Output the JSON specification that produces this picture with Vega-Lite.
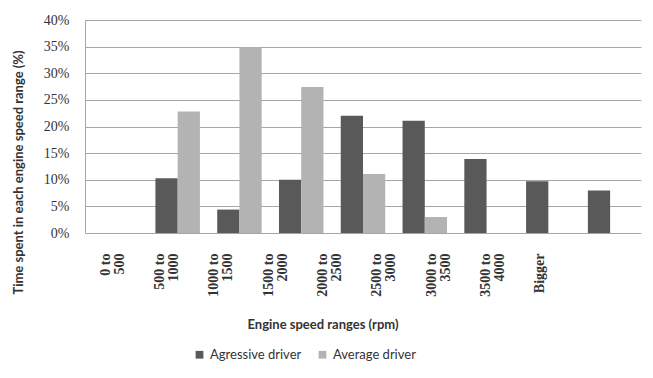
{
  "$schema": "https://vega.github.io/schema/vega-lite/v6.json",
  "width": 556,
  "height": 213,
  "autosize": {"type": "none"},
  "padding": {"left": 85, "top": 20, "right": 12, "bottom": 145},
  "background": "white",
  "config": {
    "view": {"stroke": null},
    "axis": {"labelColor": "#333333", "titleColor": "#333333"}
  },
  "data": {
    "values": [
      {"range": "0 to 500", "driver": "Agressive driver", "value": 0},
      {"range": "0 to 500", "driver": "Average driver", "value": 0},
      {"range": "500 to 1000", "driver": "Agressive driver", "value": 10.3},
      {"range": "500 to 1000", "driver": "Average driver", "value": 22.8},
      {"range": "1000 to 1500", "driver": "Agressive driver", "value": 4.4},
      {"range": "1000 to 1500", "driver": "Average driver", "value": 34.9},
      {"range": "1500 to 2000", "driver": "Agressive driver", "value": 10.0},
      {"range": "1500 to 2000", "driver": "Average driver", "value": 27.4},
      {"range": "2000 to 2500", "driver": "Agressive driver", "value": 22.0},
      {"range": "2000 to 2500", "driver": "Average driver", "value": 11.1},
      {"range": "2500 to 3000", "driver": "Agressive driver", "value": 21.1},
      {"range": "2500 to 3000", "driver": "Average driver", "value": 3.0},
      {"range": "3000 to 3500", "driver": "Agressive driver", "value": 13.9},
      {"range": "3000 to 3500", "driver": "Average driver", "value": 0},
      {"range": "3500 to 4000", "driver": "Agressive driver", "value": 9.7},
      {"range": "3500 to 4000", "driver": "Average driver", "value": 0},
      {"range": "Bigger", "driver": "Agressive driver", "value": 8.0},
      {"range": "Bigger", "driver": "Average driver", "value": 0}
    ]
  },
  "layer": [
    {
      "mark": {"type": "bar"},
      "encoding": {
        "x": {
          "field": "range", "type": "nominal",
          "sort": ["0 to 500","500 to 1000","1000 to 1500","1500 to 2000","2000 to 2500","2500 to 3000","3000 to 3500","3500 to 4000","Bigger"],
          "scale": {"paddingInner": 0.28, "paddingOuter": 0.14},
          "axis": null
        },
        "xOffset": {"field": "driver", "type": "nominal", "scale": {"paddingInner": 0}},
        "y": {
          "field": "value", "type": "quantitative",
          "scale": {"domain": [0, 40], "nice": false},
          "axis": {
            "values": [0, 5, 10, 15, 20, 25, 30, 35, 40],
            "labelOverlap": false,
            "labelExpr": "datum.value + '%'",
            "labelFont": "Liberation Serif",
            "labelFontSize": 14,
            "labelPadding": 16,
            "ticks": false,
            "domain": true,
            "domainColor": "#a6a6a6",
            "gridColor": "#a6a6a6",
            "gridWidth": 1,
            "title": "Time spent in each engine speed range (%)",
            "titleFont": "Lato",
            "titleFontWeight": "bold",
            "titleFontSize": 13,
            "titlePadding": 18,
            "titleY": 152
          }
        },
        "color": {
          "field": "driver", "type": "nominal",
          "scale": {"domain": ["Agressive driver", "Average driver"], "range": ["#595959", "#b3b3b3"]},
          "legend": {
            "orient": "none",
            "legendX": 108,
            "legendY": 328,
            "direction": "horizontal",
            "title": null,
            "symbolType": "square",
            "symbolSize": 60,
            "symbolStrokeWidth": 0,
            "labelFont": "Lato",
            "labelFontSize": 13,
            "labelColor": "#333333",
            "columnPadding": 14
          }
        }
      }
    },
    {
      "mark": {"type": "tick", "opacity": 0},
      "encoding": {
        "x": {
          "field": "range", "type": "nominal",
          "sort": ["0 to 500","500 to 1000","1000 to 1500","1500 to 2000","2000 to 2500","2500 to 3000","3000 to 3500","3500 to 4000","Bigger"],
          "scale": {"type": "point", "padding": 0.5, "range": [-7, 482]},
          "axis": {
            "orient": "bottom",
            "labelAngle": -90,
            "labelAlign": "right",
            "labelBaseline": "middle",
            "labelFont": "Liberation Serif",
            "labelFontWeight": "bold",
            "labelFontSize": 14,
            "labelLineHeight": 14,
            "labelPadding": 20,
            "labelExpr": "indexof(datum.label, ' to ') > 0 ? [substring(datum.label, 0, indexof(datum.label, ' to ') + 3), substring(datum.label, indexof(datum.label, ' to ') + 4)] : datum.label",
            "ticks": false,
            "domain": false,
            "grid": false,
            "title": "Engine speed ranges (rpm)",
            "titleFont": "Lato",
            "titleFontWeight": "bold",
            "titleFontSize": 13,
            "titlePadding": 22
          }
        },
        "y": {
          "field": "value", "type": "quantitative",
          "scale": {"domain": [0, 40], "nice": false},
          "axis": {
            "values": [0, 5, 10, 15, 20, 25, 30, 35, 40],
            "labelOverlap": false,
            "labelExpr": "datum.value + '%'",
            "labelFont": "Liberation Serif",
            "labelFontSize": 14,
            "labelPadding": 16,
            "ticks": false,
            "domain": true,
            "domainColor": "#a6a6a6",
            "gridColor": "#a6a6a6",
            "gridWidth": 1,
            "title": "Time spent in each engine speed range (%)",
            "titleFont": "Lato",
            "titleFontWeight": "bold",
            "titleFontSize": 13,
            "titlePadding": 18,
            "titleY": 152
          }
        }
      }
    }
  ],
  "resolve": {"scale": {"x": "independent"}, "axis": {"x": "independent"}}
}
